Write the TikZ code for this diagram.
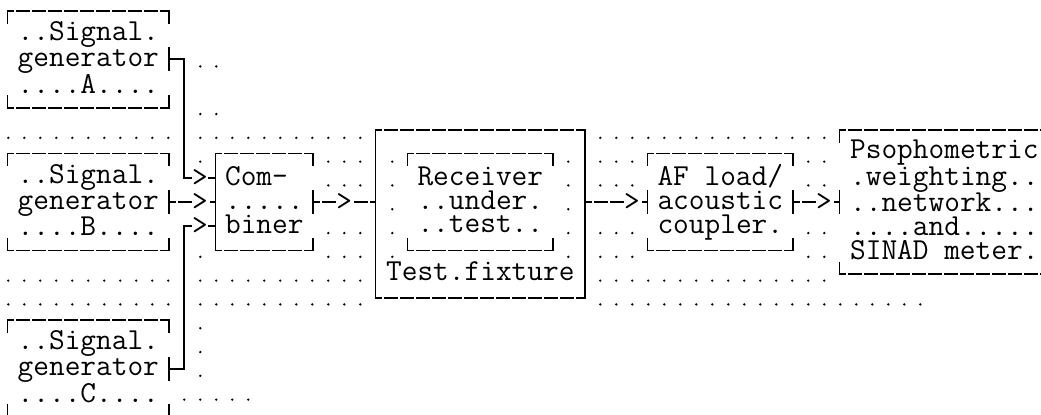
\documentclass[tikz,border=0pt]{standalone}
\usepackage{fontspec}
\usepackage{tikz}

% one character cell = 16pt wide, one text row = 23.8pt high
\newcommand\mono{\ttfamily\fontsize{30.48pt}{23.8pt}\selectfont}
\newcommand\rs{\rule[-4.5pt]{0pt}{22.5pt}}
% box outline: top and bottom rules, short ticks at the corners
\newcommand\asciibox[1]{%
  \draw[hline] (#1.north west) -- (#1.north east);
  \draw[hline] (#1.south west) -- (#1.south east);
  \draw[line cap=rect] (#1.north west) -- ++(0,0.5);
  \draw[line cap=rect] (#1.north east) -- ++(0,0.5);
  \draw[line cap=rect] (#1.south west) -- ++(0,-0.5);
  \draw[line cap=rect] (#1.south east) -- ++(0,-0.5);
}
% side tick where a wire meets a box
\newcommand\sidetick[1]{\draw (#1) ++(0,-0.5) -- ++(0,1);}
% run of filler dots on one row
\newcommand\dotrun[3]{\foreach \c in {#1,...,#2} {\fill (\c,#3+0.3) circle (1.3pt);}}

\begin{document}
\begin{tikzpicture}[
		x=16pt, y=-23.8pt,
		line width=1.7pt,
		box/.style = {
			inner sep=0pt,
			align=center,
			font=\mono,
			minimum height=95.2pt
		},
		hline/.style = {dash pattern=on 14pt off 2pt, dash phase=7pt},
		tip/.style = {fill=white, inner sep=0pt, font=\mono}
		]
		\useasboundingbox (-0.519,-0.4916) rectangle (64.544,16.945);

		\node[box, minimum width=160pt] (siga) at (5,2) {\rs..Signal.\\\rs generator\\\rs....A....};
		\node[box, minimum width=160pt] (sigb) at (5,8) {\rs..Signal.\\\rs generator\\\rs....B....};
		\node[box, minimum width=160pt] (sigc) at (5,15) {\rs..Signal.\\\rs generator\\\rs....C....};
		\node[box, minimum width=96pt] (comb) at (16,8) {\rs Com-\hphantom{-}\\\rs.....\\\rs biner};
		\node[box, minimum width=208pt, minimum height=166.6pt] (fixture) at (29.5,8.5) {};
		\node[box, minimum width=144pt] (rx) at (29.5,8) {\rs Receiver\\\rs..under.\\\rs..test..};
		\node[inner sep=0pt, font=\mono] (fixlabel) at (29.5,11) {\rs Test.fixture};
		\node[box, minimum width=144pt] (af) at (44.5,8) {\rs AF load/\\\rs acoustic\\\rs coupler.};
		\node[box, minimum width=208pt, minimum height=142.8pt] (psoph) at (58.5,8)
			{\rs Psophometric\\\rs.weighting..\\\rs..network...\\\rs....and.....\\\rs SINAD meter.};

		\asciibox{siga}
		\asciibox{sigb}
		\asciibox{sigc}
		\asciibox{comb}
		\asciibox{fixture}
		\draw (fixture.north west) -- (fixture.south west);
		\draw (fixture.north east) -- (fixture.south east);
		\asciibox{rx}
		\asciibox{af}
		\asciibox{psoph}

		% wires
		\draw (siga.east) -- (11,2) -- (11,7) -- node[tip]{>} (comb.west |- 0,7);
		\draw[hline] (sigb.east) -- node[tip, pos=0.667]{>} (comb.west);
		\draw (sigc.east) -- (11,15) -- (11,9) -- node[tip]{>} (comb.west |- 0,9);
		\draw[hline] (comb.east) -- node[tip]{>} (fixture.west |- comb.east);
		\draw[hline] (fixture.east |- af.west) -- node[tip, pos=0.75]{>} (af.west);
		\draw[hline] (af.east) -- node[tip, pos=0.667]{>} (psoph.west);
		\sidetick{siga.east}
		\sidetick{sigb.east}
		\sidetick{sigc.east}
		\sidetick{comb.west |- 0,7}
		\sidetick{comb.west}
		\sidetick{comb.west |- 0,9}
		\sidetick{comb.east}
		\sidetick{af.west}
		\sidetick{af.east}
		\sidetick{psoph.west}

		% filler dots
		\dotrun{12}{13}{2}
		\dotrun{12}{13}{4}
		\dotrun{0}{10}{5} \dotrun{12}{22}{5} \dotrun{37}{51}{5}
		\foreach \r in {6,7,9,10} {
			\dotrun{20}{22}{\r} \dotrun{24}{24}{\r} \dotrun{35}{35}{\r}
			\dotrun{37}{39}{\r} \dotrun{50}{51}{\r}
		}
		\dotrun{24}{24}{8} \dotrun{35}{35}{8}
		\dotrun{12}{12}{6} \dotrun{12}{12}{10}
		\dotrun{0}{10}{11} \dotrun{12}{22}{11} \dotrun{37}{51}{11}
		\dotrun{0}{10}{12} \dotrun{12}{22}{12} \dotrun{37}{57}{12}
		\foreach \r in {13,14,15} {\dotrun{12}{12}{\r}}
		\dotrun{11}{15}{16}
	\end{tikzpicture}
\end{document}
